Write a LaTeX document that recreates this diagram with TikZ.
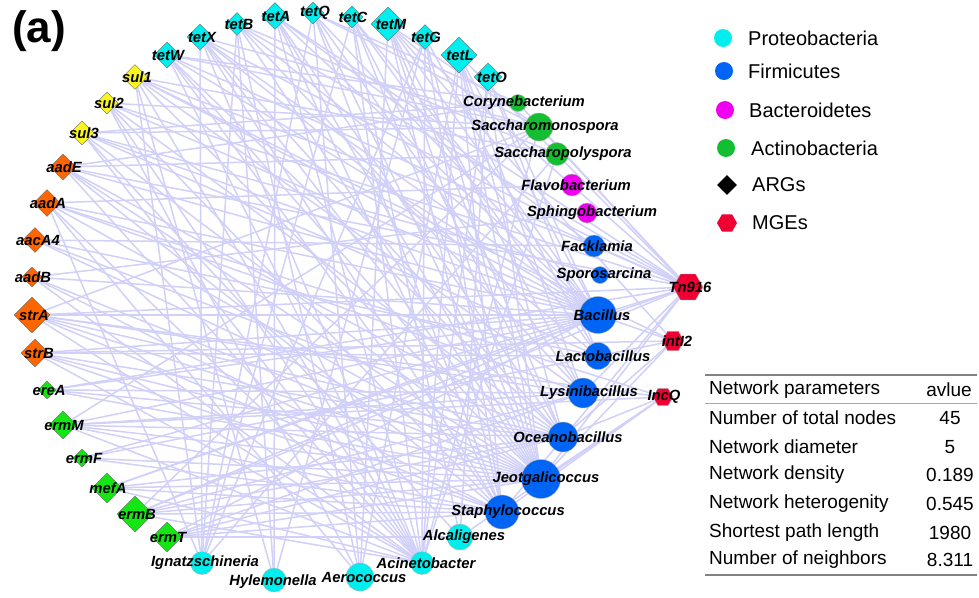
\documentclass[tikz,border=0pt]{standalone}
\usepackage{fontspec}
\setmainfont{Liberation Sans}
\usetikzlibrary{shapes.geometric,backgrounds}
\definecolor{edgec}{RGB}{208,208,248}
\definecolor{cyanc}{RGB}{0,238,238}
\definecolor{bluec}{RGB}{0,100,245}
\definecolor{magc}{RGB}{240,0,240}
\definecolor{actc}{RGB}{20,190,50}
\definecolor{sulc}{RGB}{250,245,30}
\definecolor{orc}{RGB}{255,102,0}
\definecolor{ermc}{RGB}{20,230,20}
\definecolor{redc}{RGB}{240,0,50}
\definecolor{rulec}{RGB}{130,130,130}
\begin{document}
\begin{tikzpicture}[x=1pt,y=-1pt,
  dia/.style={diamond, draw=gray!80!black, line width=0.4pt, inner sep=0pt, minimum size=#1},
  bac/.style={circle, draw=gray!60, line width=0.4pt, inner sep=0pt, minimum size=#1},
  mge/.style={regular polygon, regular polygon sides=6, draw=gray!60, line width=0.4pt, inner sep=0pt, minimum size=#1, fill=redc},
  lab/.style={font=\fontsize{14.8}{16}\selectfont\bfseries\itshape, inner sep=0pt},
  edge/.style={draw=edgec, line width=1.5pt},
  legtxt/.style={font=\fontsize{20}{22}\selectfont, anchor=west, inner sep=0pt},
  tabtxt/.style={font=\fontsize{19}{21}\selectfont, inner sep=0pt},
]
\useasboundingbox (0,0) rectangle (979,597);

\node[font=\fontsize{44}{48}\selectfont\bfseries, inner sep=0pt] (panel) at (39,31) {(a)};

% ARGs
\node[dia=26pt, fill=cyanc, label={[lab,xshift=1pt]center:tetW}] (tetW) at (167,55) {};
\node[dia=26pt, fill=cyanc, label={[lab,xshift=2pt]center:tetX}] (tetX) at (200,37) {};
\node[dia=23pt, fill=cyanc, label={[lab,xshift=2pt]center:tetB}] (tetB) at (237,24) {};
\node[dia=27pt, fill=cyanc, label={[lab,xshift=1pt]center:tetA}] (tetA) at (275,16) {};
\node[dia=22pt, fill=cyanc, label={[lab,xshift=2pt]center:tetQ}] (tetQ) at (313,13) {};
\node[dia=22pt, fill=cyanc, label={[lab,xshift=1pt]center:tetC}] (tetC) at (352,17) {};
\node[dia=34pt, fill=cyanc, label={[lab,xshift=3pt]center:tetM}] (tetM) at (388,24) {};
\node[dia=25pt, fill=cyanc, label={[lab,xshift=1pt]center:tetG}] (tetG) at (425,37) {};
\node[dia=36pt, fill=cyanc, label={[lab,xshift=1pt]center:tetL}] (tetL) at (459,55) {};
\node[dia=28pt, fill=cyanc, label={[lab,xshift=4pt]center:tetO}] (tetO) at (488,77) {};
\node[dia=25pt, fill=sulc, label={[lab,xshift=2pt]center:sul1}] (sulA) at (135,77) {};
\node[dia=22pt, fill=sulc, label={[lab,xshift=2pt]center:sul2}] (sulB) at (107,103) {};
\node[dia=24pt, fill=sulc, label={[lab,xshift=2pt]center:sul3}] (sulC) at (82,133) {};
\node[dia=26pt, fill=orc, label={[lab,xshift=1pt]center:aadE}] (aadE) at (63,167) {};
\node[dia=27pt, fill=orc, label={[lab,xshift=1pt]center:aadA}] (aadA) at (47,203) {};
\node[dia=25pt, fill=orc, label={[lab,xshift=3pt]center:aacA4}] (aacA) at (35,240) {};
\node[dia=20pt, fill=orc, label={[lab,xshift=1pt]center:aadB}] (aadB) at (32,277) {};
\node[dia=36pt, fill=orc, label={[lab,xshift=2pt]center:strA}] (strA) at (32,315) {};
\node[dia=28pt, fill=orc, label={[lab,xshift=4pt]center:strB}] (strB) at (35,353) {};
\node[dia=18pt, fill=ermc, label={[lab,xshift=2pt]center:ereA}] (ereA) at (47,390) {};
\node[dia=28pt, fill=ermc, label={[lab,xshift=1pt]center:ermM}] (ermM) at (63,425) {};
\node[dia=18pt, fill=ermc, label={[lab,xshift=2pt]center:ermF}] (ermF) at (82,458) {};
\node[dia=30pt, fill=ermc, label={[lab,xshift=1pt]center:mefA}] (mefA) at (107,488) {};
\node[dia=36pt, fill=ermc, label={[lab,xshift=2pt]center:ermB}] (ermB) at (135,514) {};
\node[dia=30pt, fill=ermc, label={[lab,xshift=1pt]center:ermT}] (ermT) at (167,537) {};

% bacteria
\node[bac=17pt, fill=actc, label={[lab,xshift=6pt]center:Corynebacterium}] (Cory) at (518,103) {};
\node[bac=28pt, fill=actc, label={[lab,xshift=6pt]center:Saccharomonospora}] (Sacm) at (539,127) {};
\node[bac=23pt, fill=actc, label={[lab,xshift=6pt]center:Saccharopolyspora}] (Sacp) at (557,154) {};
\node[bac=22pt, fill=magc, label={[lab,xshift=4pt]center:Flavobacterium}] (Flav) at (572,185) {};
\node[bac=20pt, fill=magc, label={[lab,xshift=5pt]center:Sphingobacterium}] (Sphi) at (587,213) {};
\node[bac=22pt, fill=bluec, label={[lab,xshift=3pt]center:Facklamia}] (Fack) at (594,246) {};
\node[bac=17pt, fill=bluec, label={[lab,xshift=4pt]center:Sporosarcina}] (Spor) at (600,275) {};
\node[bac=37pt, fill=bluec, label={[lab,xshift=4pt]center:Bacillus}] (Baci) at (598,315) {};
\node[bac=27pt, fill=bluec, label={[lab,xshift=5pt]center:Lactobacillus}] (Lact) at (598,356) {};
\node[bac=30pt, fill=bluec, label={[lab,xshift=6pt]center:Lysinibacillus}] (Lysi) at (583,393) {};
\node[bac=30pt, fill=bluec, label={[lab,xshift=5pt]center:Oceanobacillus}] (Ocea) at (563,437) {};
\node[bac=39pt, fill=bluec, label={[lab,xshift=5pt]center:Jeotgalicoccus}] (Jeot) at (541,479) {};
\node[bac=34pt, fill=bluec, label={[lab,xshift=6pt]center:Staphylococcus}] (Stap) at (502,512) {};
\node[bac=26pt, fill=cyanc, label={[lab,xshift=4pt]center:Alcaligenes}] (Alca) at (460,537) {};
\node[bac=23pt, fill=cyanc, label={[lab,xshift=4pt]center:Acinetobacter}] (Acin) at (422,563) {};
\node[bac=28pt, fill=cyanc, label={[lab,xshift=4pt]center:Aerococcus}] (Aero) at (360,577) {};
\node[bac=24pt, fill=cyanc, label={[lab,xshift=-1pt,yshift=-2pt]center:Hylemonella}] (Hyle) at (274,580) {};
\node[bac=23pt, fill=cyanc, label={[lab,xshift=3pt]center:Ignatzschineria}] (Igna) at (202,563) {};

% MGEs
\node[mge=30pt, label={[lab,xshift=2pt]center:Tn916}] (Tn) at (688,287) {};
\node[mge=22pt, label={[lab,xshift=4pt]center:intI2}] (intI) at (673,341) {};
\node[mge=20pt, label={[lab,xshift=1pt]center:IncQ}] (IncQ) at (663,397) {};

\begin{pgfonlayer}{background}
\foreach \a/\b in {
tetX/Baci, tetX/Jeot, tetX/Stap, tetX/Ocea, tetX/Lact, tetX/Sacm, tetX/Tn, tetX/Acin, tetX/Igna,
tetB/Baci, tetB/Jeot, tetB/Igna, tetB/Lysi, tetB/Aero, tetB/Tn, tetB/Sacp, tetB/Hyle,
tetA/Jeot, tetA/Stap, tetA/Ocea, tetA/Baci, tetA/Acin, tetA/Hyle, tetA/Fack, tetA/Tn,
tetQ/Jeot, tetQ/Lysi, tetQ/Baci, tetQ/Aero, tetQ/Sacm, tetQ/Stap, tetQ/Igna, tetQ/Cory,
tetC/Baci, tetC/Ocea, tetC/Jeot, tetC/Acin, tetC/Alca, tetC/Lact, tetC/Igna,
tetM/Baci, tetM/Jeot, tetM/Stap, tetM/Lysi, tetM/Ocea, tetM/Tn, tetM/Aero, tetM/Sacm, tetM/intI,
tetG/Jeot, tetG/Acin, tetG/Hyle, tetG/Lact, tetG/Stap, tetG/Igna,
tetL/Baci, tetL/Lysi, tetL/Jeot, tetL/Ocea, tetL/Stap, tetL/Tn, tetL/Acin, tetL/Aero,
tetO/Jeot, tetO/Baci, tetO/Acin, tetO/Alca, tetO/Lact,
tetW/Baci, tetW/Jeot, tetW/Stap, tetW/Tn, tetW/Sacm, tetW/Ocea, tetW/Acin, tetW/Cory,
sulA/Baci, sulA/Jeot, sulA/Lysi, sulA/Sacp, sulA/Fack, sulA/Acin, sulA/Igna, sulA/Hyle, sulA/intI,
sulB/Sacm, sulB/Baci, sulB/Ocea, sulB/Stap, sulB/Tn, sulB/Acin, sulB/Aero,
sulC/Jeot, sulC/Baci, sulC/Spor, sulC/Lact, sulC/Acin, sulC/Alca, sulC/Sacm, sulC/Cory,
aadE/Sacp, aadE/Baci, aadE/Jeot, aadE/Ocea, aadE/Acin, aadE/Stap, aadE/Tn, aadE/Cory,
aadA/Baci, aadA/Flav, aadA/Lysi, aadA/Jeot, aadA/Igna, aadA/Acin, aadA/Aero, aadA/IncQ,
aacA/Lact, aacA/Ocea, aacA/Jeot, aacA/Fack,
aadB/Baci, aadB/Sphi, aadB/Stap, aadB/Jeot, aadB/Acin,
strA/Baci, strA/Lysi, strA/Jeot, strA/Stap, strA/Ocea, strA/Tn, strA/Acin, strA/Sacm, strA/IncQ,
strB/Baci, strB/Jeot, strB/Ocea, strB/Stap, strB/Lact, strB/Acin, strB/intI,
ereA/Ocea, ereA/Jeot, ereA/Baci, ereA/Lysi, ereA/Tn,
ermM/Baci, ermM/Jeot, ermM/Stap, ermM/Lysi, ermM/Ocea, ermM/Acin, ermM/Sacm, ermM/IncQ,
ermF/Jeot, ermF/Stap, ermF/Baci, ermF/Lact,
mefA/Jeot, mefA/Ocea, mefA/Baci, mefA/Stap, mefA/Acin, mefA/Tn,
ermB/Jeot, ermB/Stap, ermB/Baci, ermB/Lysi, ermB/Ocea, ermB/Acin, ermB/Tn, ermB/Sacm,
ermT/Jeot, ermT/Baci, ermT/Stap, ermT/Ocea, ermT/Lysi, ermT/Alca,
Tn/Baci, Tn/Jeot, Tn/Lysi, Tn/Stap, Tn/Fack, Tn/Cory, Tn/Sacm,
intI/Jeot, intI/Ocea, intI/Lact, intI/Baci,
IncQ/Stap, IncQ/Jeot, IncQ/Alca, IncQ/Ocea,
Acin/Sacm, Acin/Sacp, Igna/Sacp}
  \draw[edge] (\a) -- (\b);
\end{pgfonlayer}

% legend
\node[circle, fill=cyanc, inner sep=0pt, minimum size=18pt] (lg1) at (723,38) {};
\node[legtxt] (lt1) at (748,38) {Proteobacteria};
\node[circle, fill=bluec, inner sep=0pt, minimum size=18pt] (lg2) at (724,71) {};
\node[legtxt] (lt2) at (748,71) {Firmicutes};
\node[circle, fill=magc, inner sep=0pt, minimum size=18pt] (lg3) at (725,110) {};
\node[legtxt] (lt3) at (749,110) {Bacteroidetes};
\node[circle, fill=actc, inner sep=0pt, minimum size=18pt] (lg4) at (726,148) {};
\node[legtxt] (lt4) at (751,148) {Actinobacteria};
\node[diamond, fill=black, inner sep=0pt, minimum size=20pt] (lg5) at (727,185) {};
\node[legtxt] (lt5) at (752,185) {ARGs};
\node[regular polygon, regular polygon sides=6, fill=redc, inner sep=0pt, minimum size=20pt] (lg6) at (727,223) {};
\node[legtxt] (lt6) at (752,223) {MGEs};

% table
\draw[rulec, line width=1.5pt] (705,375) -- (977,375);
\draw[rulec!70, line width=0.8pt] (705,403) -- (977,403);
\draw[rulec, line width=1.5pt] (705,575) -- (977,575);
\node[tabtxt, anchor=west] (h1) at (709,390) {Network parameters};
\node[tabtxt] (h2) at (949,390) {avlue};
\node[tabtxt, anchor=west] (r1) at (709,418) {Number of total nodes};
\node[tabtxt] (v1) at (950,418) {45};
\node[tabtxt, anchor=west] (r2) at (709,447) {Network diameter};
\node[tabtxt] (v2) at (950,447) {5};
\node[tabtxt, anchor=west] (r3) at (709,475) {Network density};
\node[tabtxt] (v3) at (950,475) {0.189};
\node[tabtxt, anchor=west] (r4) at (709,504) {Network heterogenity};
\node[tabtxt] (v4) at (950,504) {0.545};
\node[tabtxt, anchor=west] (r5) at (709,533) {Shortest path length};
\node[tabtxt] (v5) at (950,533) {1980};
\node[tabtxt, anchor=west] (r6) at (709,560) {Number of neighbors};
\node[tabtxt] (v6) at (950,560) {8.311};
\end{tikzpicture}
\end{document}
